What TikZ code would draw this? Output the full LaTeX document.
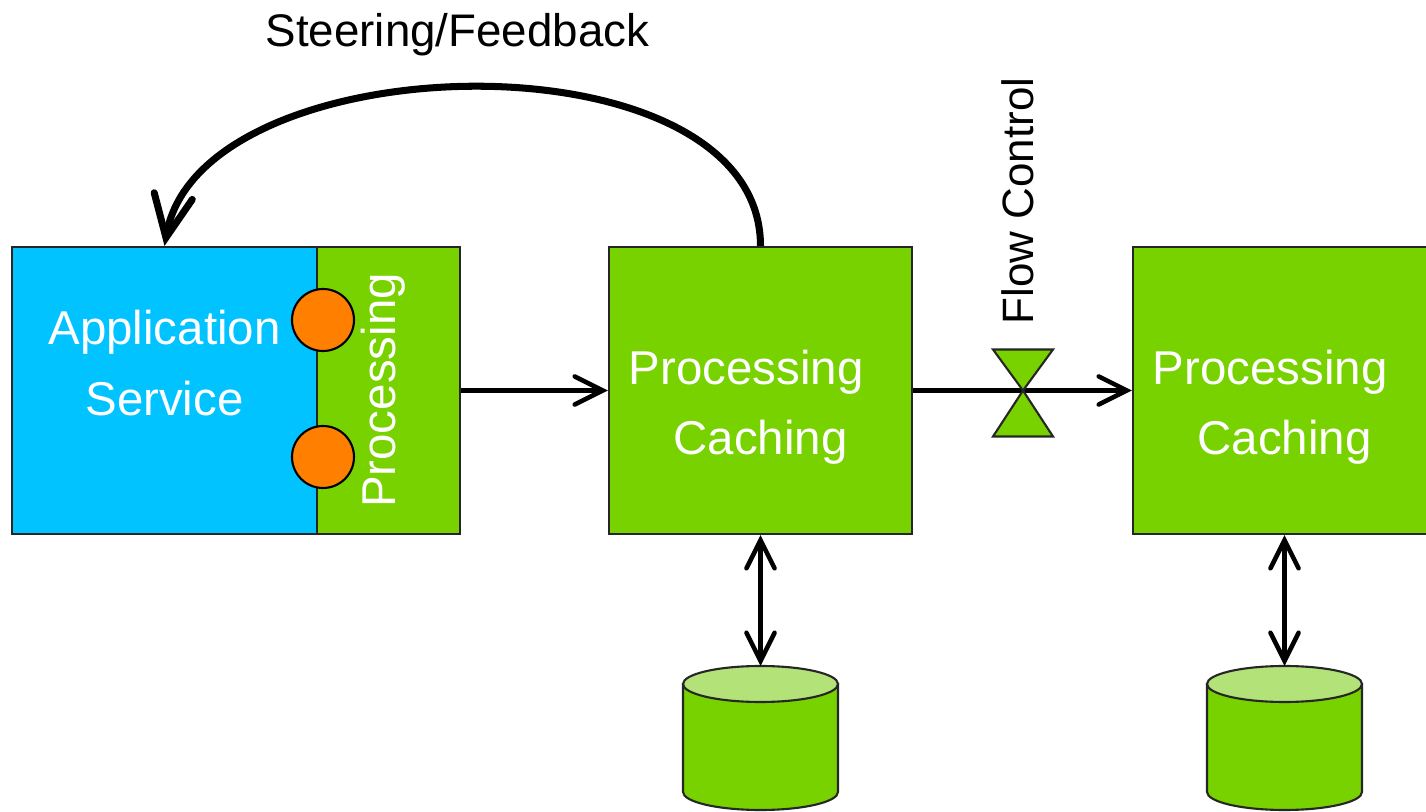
\documentclass[tikz,border=0pt]{standalone}
\usepackage{fontspec}
\setmainfont{Liberation Sans}
\usetikzlibrary{arrows.meta}

\definecolor{appblue}{RGB}{0,195,255}
\definecolor{procgreen}{RGB}{119,210,0}
\definecolor{disktop}{RGB}{178,226,120}
\definecolor{portorange}{RGB}{255,128,0}

\tikzset{
	box/.style={draw=black!85, line width=0.6pt, inner sep=0pt},
	boxtext/.style={text=white, align=center, font=\fontsize{13.5}{20}\selectfont},
	plaintext/.style={font=\fontsize{13}{16}\selectfont},
	flow/.style={line width=1.3pt, -{Straight Barb[length=8pt,width=8pt,line cap=round]}},
	link/.style={line width=1.3pt, {Straight Barb[length=8pt,width=8pt,line cap=round]}-{Straight Barb[length=8pt,width=8pt,line cap=round]}},
	feedback/.style={line width=2pt, -{Straight Barb[length=12pt,width=11pt,line cap=round]}},
	port/.style={circle, draw=black, line width=0.6pt, fill=portorange, minimum size=0.62cm, inner sep=0pt},
}

\begin{document}
\begin{tikzpicture}
	\path[use as bounding box, clip] (0,0) rectangle (14.26,8.11);

	% Application service with its processing strip
	\node (app) at (1.645,4.205) [box, fill=appblue, minimum width=3.05cm, minimum height=2.87cm] {};
	\node (strip) at (3.885,4.205) [box, fill=procgreen, minimum width=1.43cm, minimum height=2.87cm] {};
	\node (applbl) at ([yshift=2.75mm]app.center) [boxtext] {Application\\Service};
	\node (striplbl) at ([xshift=-0.55mm]strip.center) [boxtext, rotate=90] {Processing};
	%ports
	\node (port1) at (3.23,4.91) [port] {};
	\node (port2) at (3.23,3.54) [port] {};

	% Processing/caching stages
	\node (cache1) at (7.605,4.205) [box, fill=procgreen, minimum width=3.03cm, minimum height=2.87cm] {};
	\node (cache2) at (12.845,4.205) [box, fill=procgreen, minimum width=3.03cm, minimum height=2.87cm] {};
	\node (cache1lbl) at ([yshift=-1.65mm]cache1.center) [boxtext] {Processing\kern0.6em\\Caching};
	\node (cache2lbl) at ([yshift=-1.65mm]cache2.center) [boxtext] {Processing\kern0.6em\\Caching};

	% Data flow
	\draw[flow] (strip.east) -- (cache1.west);
	\draw[flow] (cache1.east) -- (cache2.west);

	% Valve on the link
	\coordinate (valve) at (10.23,4.205);
	\draw[box, fill=procgreen] (valve) -- ++(-0.3,0.41) -- ++(0.6,0) -- cycle;
	\draw[box, fill=procgreen] (valve) -- ++(-0.3,-0.46) -- ++(0.6,0) -- cycle;
	\node (flowlbl) at (10.18,6.1) [plaintext, font=\fontsize{12.5}{15}\selectfont, rotate=90] {Flow Control};

	% Disks
	\coordinate (db1) at (cache1.south |- 0,1.27);
	\coordinate (db2) at (cache2.south |- 0,1.27);
	\foreach \db in {db1,db2} {
		\draw[box, fill=procgreen] ([xshift=-7.75mm]\db) -- ++(0,-1.08)
			arc[start angle=180, end angle=360, x radius=7.75mm, y radius=1.8mm] -- ++(0,1.08) -- cycle;
		\draw[box, fill=disktop] (\db) ellipse [x radius=7.75mm, y radius=1.8mm];
	}
	\draw[link] (cache1.south) -- ([yshift=1.8mm]db1);
	\draw[link] (cache2.south) -- ([yshift=1.8mm]db2);

	% Steering loop back to the application
	\draw[feedback] (cache1.north) .. controls +(0,2.17) and +(0.36,2.05) .. (app.north);
	\node (steerlbl) at (4.575,7.76) [plaintext] {Steering/Feedback};
\end{tikzpicture}
\end{document}
